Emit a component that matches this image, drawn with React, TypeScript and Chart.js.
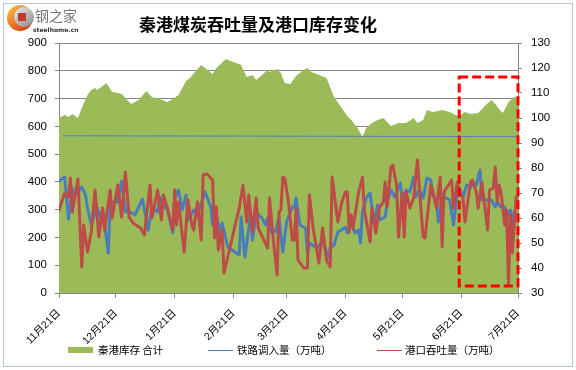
import React, { useEffect, useRef } from 'react';
import { Chart, registerables } from 'chart.js';

Chart.register(...registerables);

// x positions are days counted from 11月21日
const monthTickDays = [0, 30, 61, 92, 120, 151, 181, 212, 242];
const monthTickLabels = ['11月21日', '12月21日', '1月21日', '2月21日', '3月21日', '4月21日', '5月21日', '6月21日', '7月21日'];

const leftTickStep = 100;
const rightTickStep = 10;

// 秦港库存 合计 (left axis)
const inventoryDays = [0, 3, 5, 7, 10, 12, 15, 17, 19, 20, 23, 25, 26, 28, 31, 33, 35, 38, 42, 46, 49, 53, 57, 60, 63, 67, 69, 75, 81, 83, 88, 96, 99, 102, 104, 110, 111, 115, 117, 119, 122, 125, 129, 131, 133, 136, 141, 145, 148, 152, 155, 158, 160, 162, 165, 168, 171, 173, 175, 179, 181, 183, 187, 189, 192, 194, 197, 200, 202, 206, 209, 211, 214, 217, 221, 225, 228, 230, 232, 234, 237, 240, 242];
const inventoryValues = [630, 641, 634, 644, 630, 666, 713, 731, 738, 731, 745, 756, 745, 724, 720, 716, 702, 680, 695, 727, 706, 698, 688, 698, 713, 763, 774, 821, 788, 810, 842, 821, 778, 785, 767, 803, 796, 806, 792, 756, 752, 781, 803, 810, 796, 788, 774, 706, 677, 637, 616, 587, 562, 594, 612, 623, 630, 616, 601, 612, 612, 612, 630, 612, 623, 659, 652, 655, 659, 652, 641, 637, 652, 644, 648, 677, 695, 680, 662, 648, 688, 706, 706];

// 铁路调入量（万吨） (right axis)
const railDays = [0, 3, 5, 7, 8, 12, 14, 15, 17, 20, 22, 23, 26, 27, 31, 33, 35, 36, 40, 44, 47, 49, 52, 53, 56, 57, 60, 61, 63, 65, 67, 68, 71, 73, 75, 77, 80, 81, 83, 85, 86, 89, 95, 96, 98, 101, 102, 104, 107, 109, 110, 112, 114, 116, 118, 120, 123, 124, 125, 127, 130, 131, 132, 135, 136, 139, 141, 142, 143, 145, 147, 149, 151, 152, 154, 156, 158, 159, 160, 162, 164, 166, 168, 169, 172, 173, 175, 177, 180, 181, 183, 185, 187, 188, 190, 192, 194, 196, 197, 199, 200, 202, 204, 206, 208, 210, 211, 213, 215, 217, 219, 220, 222, 223, 226, 228, 230, 231, 233, 235, 236, 238, 239, 240];
const railValues = [74.8, 76.4, 59.6, 72, 68.4, 72.4, 69.2, 64, 57.2, 64.4, 60, 63.2, 46, 66.4, 66.4, 74.8, 62.4, 63.2, 61.2, 67.6, 55.2, 64, 62.4, 68.4, 64, 64, 54, 68, 71.2, 63.2, 69.2, 59.2, 63.2, 61.2, 66, 70.4, 64.4, 57.2, 61.2, 53.2, 58, 48.4, 45.2, 60.4, 44.4, 61.2, 51.2, 62.4, 60, 57.2, 60, 54.4, 54.4, 60.4, 46.4, 58.4, 64.4, 64, 68, 57.2, 56, 46, 50, 48.4, 48, 50.4, 46.4, 44.4, 48, 49.2, 54.4, 55.2, 56.4, 54, 58.4, 54, 55.2, 50, 62.4, 68, 70, 58, 65.2, 59.2, 60.4, 66.4, 71.2, 68.4, 74, 66.4, 71.2, 70.4, 76.4, 68.4, 71.2, 68, 76, 75.2, 69.2, 66.4, 58.4, 68, 68, 67.2, 57.2, 70.4, 72, 68.4, 73.2, 72.4, 74, 73.2, 79.2, 67.2, 67.2, 67.2, 64.4, 66.4, 64.4, 64.4, 60, 63.2, 56, 62.4];

// 港口吞吐量（万吨） (right axis)
const portDays = [0, 3, 5, 6, 7, 10, 12, 13, 15, 17, 19, 21, 23, 24, 27, 28, 31, 33, 35, 37, 39, 43, 45, 48, 49, 52, 54, 55, 57, 60, 61, 62, 63, 66, 68, 70, 71, 73, 75, 76, 78, 81, 82, 83, 84, 86, 87, 95, 97, 99, 100, 102, 104, 105, 110, 111, 113, 115, 116, 117, 118, 119, 121, 123, 124, 125, 126, 129, 131, 132, 134, 137, 139, 141, 143, 144, 147, 149, 151, 152, 153, 154, 155, 158, 160, 161, 164, 165, 167, 169, 171, 172, 173, 175, 176, 178, 179, 181, 182, 183, 185, 187, 189, 190, 192, 193, 196, 197, 199, 201, 202, 203, 207, 208, 210, 211, 213, 214, 217, 218, 220, 221, 223, 226, 227, 229, 230, 231, 232, 233, 235, 236, 237, 238, 239, 241];
const portValues = [63.2, 70, 68.4, 76, 62.4, 75.6, 40.4, 57.2, 46.4, 54.4, 71.2, 52.4, 64, 55.2, 71.2, 60, 73.2, 60.4, 78.4, 60.4, 58, 56, 53.2, 73.2, 60, 71.2, 59.2, 69.2, 64.4, 55.2, 71.2, 57.2, 66.4, 46.4, 67.2, 57.2, 55.2, 66.4, 51.2, 77.2, 77.6, 75.2, 52, 64.4, 47.2, 55.2, 38, 64, 73.2, 58.4, 69.2, 54.4, 68, 56, 48, 68, 51.2, 37.2, 62.4, 63.2, 76.4, 76, 66.4, 51.2, 51.2, 64, 43.2, 40, 40, 69.2, 56, 42, 56, 43.2, 40.4, 76.4, 58.4, 66, 70.4, 70.4, 54.4, 61.2, 56, 70.4, 76.4, 63.2, 50.4, 64, 54, 64.4, 66.4, 74.4, 64.4, 80.4, 81.2, 73.2, 52.4, 70, 52.4, 70.4, 64, 68, 83.2, 72, 52.4, 52, 73.2, 71.2, 64, 76.4, 48.4, 70.4, 75.2, 64, 74.4, 70.4, 68, 58.4, 74.4, 75.2, 70.4, 64, 74, 55.2, 71.2, 72, 80.4, 66.4, 73.2, 70.4, 57.2, 63.2, 33.2, 61.2, 46, 68.4];

// thin reference line (left axis)
const baselineDays = [2, 242];
const baselineValues = [566, 563];

// highlighted period (dashed box), right-axis value range
const highlightDays = [211, 242];
const highlightRange = [32.8, 116.4];

const legendNames = ['秦港库存 合计', '铁路调入量（万吨）', '港口吞吐量（万吨）'];
const titleText = '秦港煤炭吞吐量及港口库存变化';

const GREEN = '#9BBB59';
const BLUE = '#4A7EBB';
const RED = '#BE4B48';
const AXIS = '#868686';

const zip = (xs: number[], ys: number[]) => xs.map((x, i) => ({ x, y: ys[i] }));

const decorPlugin = {
  id: 'decor',
  beforeDraw(chart: any) {
    const { ctx, width, height } = chart;
    ctx.save();
    ctx.fillStyle = '#ffffff';
    ctx.fillRect(0, 0, width, height);
    ctx.restore();
  },
  afterDraw(chart: any) {
    const ctx: CanvasRenderingContext2D = chart.ctx;
    const xs = chart.scales.x;
    const y1 = chart.scales.y1;
    ctx.save();
    // dashed highlight box
    const l = xs.getPixelForValue(highlightDays[0]);
    const r = xs.getPixelForValue(highlightDays[1]);
    const t = y1.getPixelForValue(highlightRange[1]);
    const b = y1.getPixelForValue(highlightRange[0]);
    ctx.strokeStyle = '#FF0000';
    ctx.lineWidth = 3;
    ctx.setLineDash([9, 4]);
    ctx.strokeRect(l, t, r - l, b - t);
    ctx.setLineDash([]);

    // title
    ctx.fillStyle = '#000';
    ctx.font = "bold 17px 'Noto Sans CJK SC', sans-serif";
    ctx.textAlign = 'center';
    ctx.textBaseline = 'middle';
    ctx.fillText(titleText, 258, 25);

    // legend
    const ly = 350;
    ctx.font = "10.5px 'Noto Sans CJK SC', sans-serif";
    ctx.textAlign = 'left';
    ctx.fillStyle = GREEN;
    ctx.fillRect(68, ly - 3, 25, 6);
    ctx.fillStyle = '#000';
    ctx.fillText(legendNames[0], 98, ly);
    ctx.strokeStyle = BLUE;
    ctx.lineWidth = 1;
    ctx.beginPath();
    ctx.moveTo(208, ly + 0.5);
    ctx.lineTo(233, ly + 0.5);
    ctx.stroke();
    ctx.fillText(legendNames[1], 237, ly);
    ctx.strokeStyle = RED;
    ctx.beginPath();
    ctx.moveTo(377, ly + 0.5);
    ctx.lineTo(402, ly + 0.5);
    ctx.stroke();
    ctx.fillText(legendNames[2], 405, ly);

    // chart border
    ctx.strokeStyle = '#B9C7DA';
    ctx.lineWidth = 1;
    ctx.strokeRect(3.5, 3.5, 569, 363);

    // logo
    const g = ctx.createLinearGradient(7, 5, 30, 32);
    g.addColorStop(0, '#F9C846');
    g.addColorStop(0.5, '#EE7A22');
    g.addColorStop(1, '#C8281C');
    ctx.fillStyle = g;
    ctx.beginPath();
    ctx.arc(20, 18, 13, 0, Math.PI * 2);
    ctx.fill();
    const g2 = ctx.createLinearGradient(14, 6, 34, 30);
    g2.addColorStop(0, '#F2F2F2');
    g2.addColorStop(1, '#7E7E7E');
    ctx.fillStyle = g2;
    ctx.beginPath();
    ctx.arc(24, 17, 10, 0, Math.PI * 2);
    ctx.fill();
    ctx.fillStyle = '#C0392B';
    ctx.fillRect(18, 13, 8, 8);
    ctx.fillStyle = '#777';
    ctx.font = "14px 'Noto Sans CJK SC', sans-serif";
    ctx.textBaseline = 'middle';
    ctx.fillText('钢之家', 35, 16);
    ctx.font = "bold 6px 'DejaVu Sans', sans-serif";
    ctx.fillStyle = '#333';
    ctx.fillText('steelhome.cn', 33, 30);
    ctx.restore();
  },
};

export default function App() {
  const ref = useRef<HTMLCanvasElement | null>(null);

  useEffect(() => {
    if (!ref.current) return;
    Chart.defaults.font.family = "'Liberation Sans', 'Noto Sans CJK SC', sans-serif";
    const chart = new Chart(ref.current, {
      type: 'line',
      data: {
        datasets: [
          {
            label: legendNames[2],
            data: zip(portDays, portValues),
            yAxisID: 'y1',
            borderColor: RED,
            borderWidth: 3,
            pointRadius: 0,
            fill: false,
            tension: 0,
            borderJoinStyle: 'round',
            borderCapStyle: 'round',
            order: 0,
          },
          {
            label: legendNames[1],
            data: zip(railDays, railValues),
            yAxisID: 'y1',
            borderColor: BLUE,
            borderWidth: 3,
            pointRadius: 0,
            fill: false,
            tension: 0,
            borderJoinStyle: 'round',
            borderCapStyle: 'round',
            order: 1,
          },
          {
            label: 'baseline',
            data: zip(baselineDays, baselineValues),
            yAxisID: 'y',
            borderColor: '#4F81BD',
            borderWidth: 1,
            pointRadius: 0,
            fill: false,
            order: 2,
          },
          {
            label: legendNames[0],
            data: zip(inventoryDays, inventoryValues),
            yAxisID: 'y',
            borderColor: 'rgba(0,0,0,0)',
            borderWidth: 0,
            backgroundColor: GREEN,
            pointRadius: 0,
            fill: 'origin',
            tension: 0,
            order: 3,
          },
        ],
      } as any,
      options: {
        responsive: false,
        animation: false,
        layout: { padding: { top: 43, left: 0, right: 0, bottom: 0 } },
        plugins: { legend: { display: false }, title: { display: false }, tooltip: { enabled: false } },
        scales: {
          x: {
            type: 'linear',
            min: monthTickDays[0],
            max: monthTickDays[monthTickDays.length - 1],
            afterBuildTicks: (s: any) => {
              s.ticks = monthTickDays.map((v) => ({ value: v }));
            },
            afterFit: (s: any) => {
              s.height = 77;
            },
            ticks: {
              autoSkip: false,
              maxRotation: 45,
              minRotation: 45,
              padding: 9,
              color: '#000',
              font: { size: 10.5 },
              callback: (v: any) => {
                const i = monthTickDays.indexOf(Number(v));
                return i >= 0 ? monthTickLabels[i] : '';
              },
            },
            grid: { display: true, drawOnChartArea: false, tickLength: 5, color: AXIS },
            border: { color: AXIS },
          },
          y: {
            position: 'left',
            min: 0,
            max: 900,
            ticks: { stepSize: leftTickStep, color: '#000', font: { size: 11.5 }, padding: 8 },
            grid: { color: AXIS, tickLength: 4 },
            border: { color: AXIS },
            afterFit: (s: any) => {
              s.width = 59;
            },
          },
          y1: {
            position: 'right',
            min: 30,
            max: 130,
            ticks: { stepSize: rightTickStep, color: '#000', font: { size: 11.5 }, padding: 9 },
            grid: { drawOnChartArea: false, color: AXIS, tickLength: 4 },
            border: { color: AXIS },
            afterFit: (s: any) => {
              s.width = 58;
            },
          },
        },
      } as any,
      plugins: [decorPlugin],
    });
    return () => chart.destroy();
  }, []);

  return (
    <div style={{ position: 'absolute', left: 0, top: 0, width: 576, height: 370, background: '#fff' }}>
      <canvas ref={ref} width={576} height={370} style={{ display: 'block' }} />
    </div>
  );
}
